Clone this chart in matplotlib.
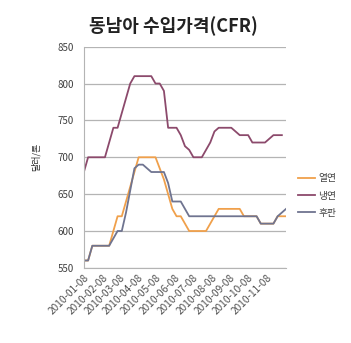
import matplotlib
matplotlib.use("Agg")
import matplotlib.pyplot as plt
import numpy as np
import pandas as pd

plt.rcParams['font.family'] = ['Noto Sans CJK KR', 'DejaVu Sans']

# 주간 가격 (달러/톤)
dates = pd.date_range('2010-01-08', periods=49, freq='7D')

hot_rolled = [560, 560, 580, 580, 580, 580, 580, 600, 620, 620,
              640, 660, 680, 700, 700, 700, 700, 700, 685, 670,
              650, 630, 620, 620, 610, 600, 600, 600, 600, 600,
              610, 620, 630, 630, 630, 630, 630, 630, 620, 620,
              620, 620, 610, 610, 610, 610, 620, 620, 620]

cold_rolled = [680, 700, 700, 700, 700, 700, 720, 740, 740, 760,
               780, 800, 810, 810, 810, 810, 810, 800, 800, 790,
               740, 740, 740, 730, 715, 710, 700, 700, 700, 710,
               720, 735, 740, 740, 740, 740, 735, 730, 730, 730,
               720, 720, 720, 720, 725, 730, 730, 730, np.nan]

plate = [560, 560, 580, 580, 580, 580, 580, 590, 600, 600,
         625, 655, 685, 690, 690, 685, 680, 680, 680, 680,
         665, 640, 640, 640, 630, 620, 620, 620, 620, 620,
         620, 620, 620, 620, 620, 620, 620, 620, 620, 620,
         620, 620, 610, 610, 610, 610, 620, 625, 630]

series_names = ['열연', '냉연', '후판']
series_colors = ['#f0a04b', '#8c4a6c', '#6f7490']

tick_dates = pd.to_datetime(['2010-%02d-08' % m for m in range(1, 12)])
y_ticks = [550, 600, 650, 700, 750, 800, 850]

fig = plt.figure(figsize=(3.51, 3.43), dpi=100)
ax = fig.add_axes([0.239, 0.219, 0.576, 0.645])

for vals, name, color in zip([hot_rolled, cold_rolled, plate], series_names, series_colors):
    ax.plot(dates, vals, color=color, linewidth=1.3, label=name)

ax.set_ylim(550, 850)
ax.set_yticks(y_ticks)
ax.set_xlim(dates[0], dates[-1])
ax.set_xticks(tick_dates)
ax.set_xticklabels([d.strftime('%Y-%m-%d') for d in tick_dates], rotation=45,
                   ha='right', rotation_mode='anchor', fontsize=7.3, color='#505050')
ax.tick_params(axis='y', length=0, labelsize=7, colors='#404040', pad=7)
ax.tick_params(axis='x', length=0, pad=3)

ax.grid(axis='y', color='#b4b4b4', linewidth=0.9)
ax.set_axisbelow(True)
for side in ['top', 'right']:
    ax.spines[side].set_visible(False)
ax.spines['left'].set_color('#b4b4b4')
ax.spines['bottom'].set_color('#b4b4b4')

ax.set_ylabel('달러/톤', fontsize=6.5, color='#303030', labelpad=12)
fig.text(0.495, 0.925, '동남아 수입가격(CFR)', ha='center', va='center',
         fontsize=13, fontweight='bold', color='#222222')

fig.legend(loc='center left', bbox_to_anchor=(0.848, 0.43), frameon=False,
           borderpad=0, borderaxespad=0, fontsize=7, handlelength=1.8,
           handletextpad=0.3, labelspacing=0.75, labelcolor='#404040')

fig.savefig('out.png', dpi=100)
